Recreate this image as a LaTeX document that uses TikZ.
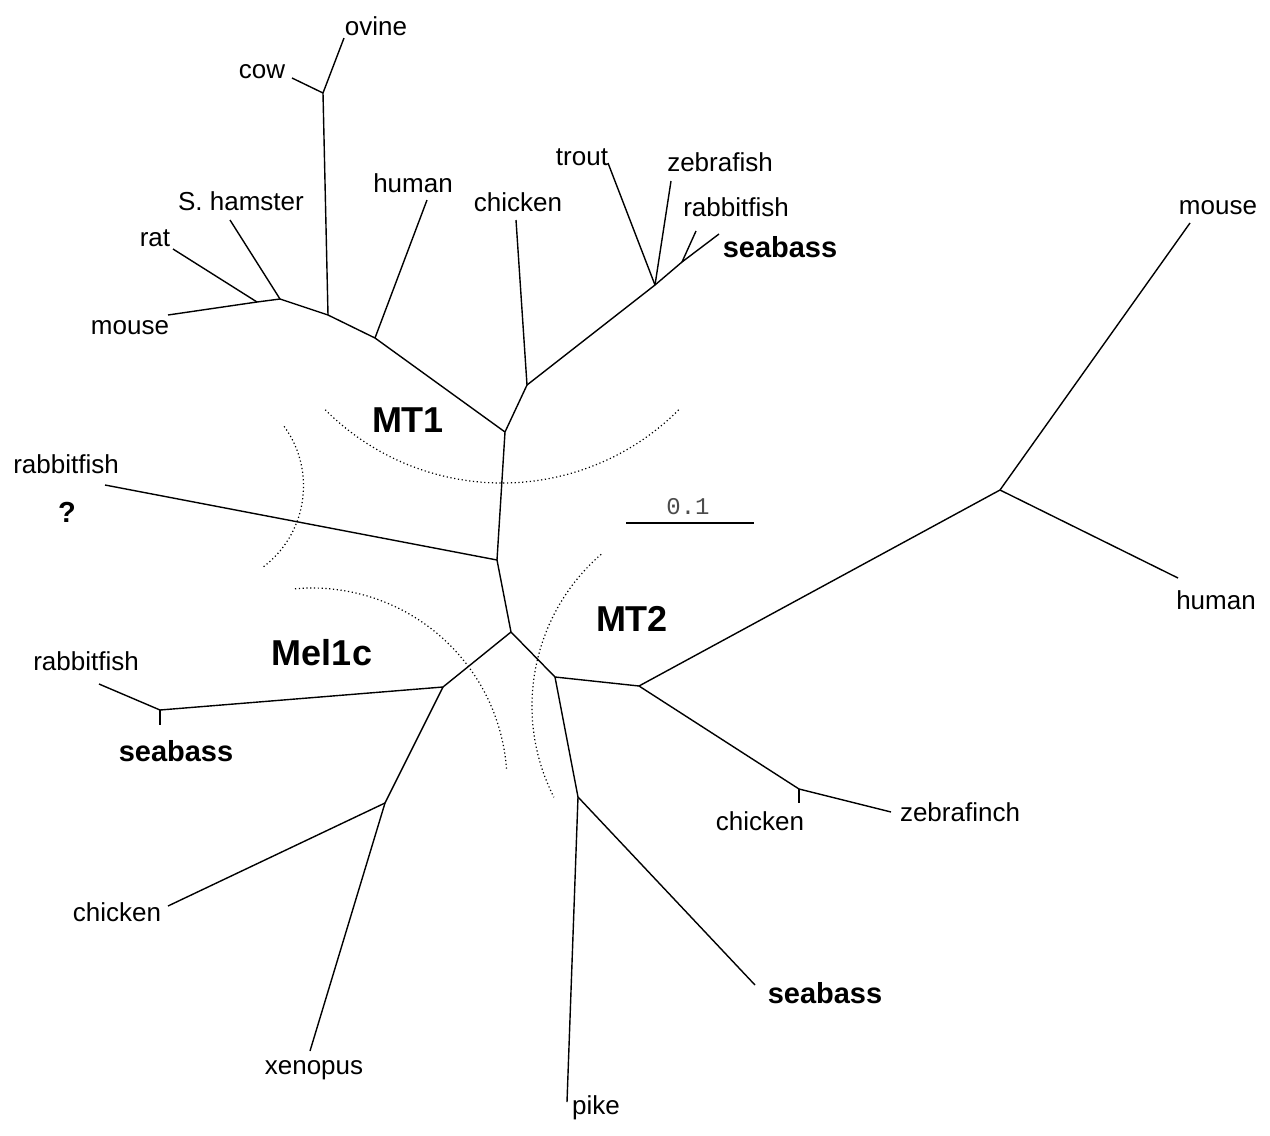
\documentclass[tikz,border=0pt]{standalone}
\usepackage{fontspec}
\setmainfont{Liberation Sans}
\setmonofont{Liberation Mono}
\usepackage{tikz}

\begin{document}
\begin{tikzpicture}[
    x=0.5pt, y=-0.5pt,
    branch/.style={draw=black, line width=0.7pt},
    groupline/.style={draw=black, line width=0.6pt, dash pattern=on 0.6pt off 1.3pt},
    leaf/.style={inner sep=0pt, font=\fontsize{13}{15}\selectfont},
    boldleaf/.style={inner sep=0pt, font=\fontsize{14.5}{17}\selectfont\bfseries},
    clade/.style={inner sep=0pt, font=\fontsize{18}{21}\selectfont\bfseries},
    scalelabel/.style={inner sep=0pt, text=black!70, font=\ttfamily\fontsize{12}{14}\selectfont},
]
\useasboundingbox (0,0) rectangle (1270,1136);

% Trunk
\coordinate (mt1root) at (505,432);
\coordinate (qnode) at (497,560);
\coordinate (center) at (511,632);
\coordinate (qtip) at (105,485);

% MT1 clade
\coordinate (humannode) at (375,338);
\coordinate (stemnode) at (328,315);
\coordinate (ovcownode) at (323,93);
\coordinate (ovinetip) at (344,38);
\coordinate (cowtip) at (292,78);
\coordinate (humantip) at (427,200);
\coordinate (rodentnode) at (280,299);
\coordinate (ratmousenode) at (257,302);
\coordinate (rattip) at (173,249);
\coordinate (mousetip) at (168,315);
\coordinate (hamstertip) at (230,220);
\coordinate (chickfishnode) at (527,385);
\coordinate (chickentip) at (516,220);
\coordinate (fishnode) at (655,285);
\coordinate (trouttip) at (608,163);
\coordinate (zebrafishtip) at (671,181);
\coordinate (rsnode) at (682,262);
\coordinate (rabbittip) at (696,231);
\coordinate (seabasstip) at (719,234);

% Mel1c clade
\coordinate (melnode) at (443,687);
\coordinate (melrsnode) at (160,710);
\coordinate (melrabbittip) at (99,684);
\coordinate (melseabasstip) at (160,725);
\coordinate (melxenonode) at (385,803);
\coordinate (melchickentip) at (168,906);
\coordinate (xenopustip) at (310,1051);

% MT2 clade
\coordinate (mt2node) at (555,677);
\coordinate (birdmamnode) at (639,686);
\coordinate (mamnode) at (1000,490);
\coordinate (mt2mousetip) at (1190,223);
\coordinate (mt2humantip) at (1178,578);
\coordinate (birdnode) at (799,789);
\coordinate (mt2chickentip) at (799,803);
\coordinate (finchtip) at (891,812);
\coordinate (fishnode2) at (578,797);
\coordinate (piketip) at (567,1102);
\coordinate (mt2seabasstip) at (755,985);

% Scale bar
\coordinate (barleft) at (626,523);
\coordinate (barright) at (754,523);

% Trunk branches
\draw[branch] (mt1root) -- (qnode) -- (center);
\draw[branch] (qnode) -- (qtip);

% MT1 branches
\draw[branch] (mt1root) -- (humannode) -- (stemnode) -- (rodentnode) -- (ratmousenode);
\draw[branch] (ratmousenode) -- (rattip);
\draw[branch] (ratmousenode) -- (mousetip);
\draw[branch] (rodentnode) -- (hamstertip);
\draw[branch] (stemnode) -- (ovcownode);
\draw[branch] (ovcownode) -- (ovinetip);
\draw[branch] (ovcownode) -- (cowtip);
\draw[branch] (humannode) -- (humantip);
\draw[branch] (mt1root) -- (chickfishnode) -- (chickentip);
\draw[branch] (chickfishnode) -- (fishnode);
\draw[branch] (fishnode) -- (trouttip);
\draw[branch] (fishnode) -- (zebrafishtip);
\draw[branch] (fishnode) -- (rsnode);
\draw[branch] (rsnode) -- (rabbittip);
\draw[branch] (rsnode) -- (seabasstip);

% Mel1c branches
\draw[branch] (center) -- (melnode) -- (melrsnode);
\draw[branch] (melrsnode) -- (melrabbittip);
\draw[branch] (melrsnode) -- (melseabasstip);
\draw[branch] (melnode) -- (melxenonode);
\draw[branch] (melxenonode) -- (melchickentip);
\draw[branch] (melxenonode) -- (xenopustip);

% MT2 branches
\draw[branch] (center) -- (mt2node) -- (birdmamnode) -- (mamnode);
\draw[branch] (mamnode) -- (mt2mousetip);
\draw[branch] (mamnode) -- (mt2humantip);
\draw[branch] (birdmamnode) -- (birdnode);
\draw[branch] (birdnode) -- (mt2chickentip);
\draw[branch] (birdnode) -- (finchtip);
\draw[branch] (mt2node) -- (fishnode2);
\draw[branch] (fishnode2) -- (piketip);
\draw[branch] (fishnode2) -- (mt2seabasstip);

% Scale bar
\draw[branch] (barleft) -- (barright);
\node[scalelabel] (barlabel) at (688,507) {0.1};

% Group borders
\draw[groupline] (502,233) ++(135:250) arc[start angle=135, end angle=45, radius=250];
\draw[groupline] (202,486) ++(-36:101.5) arc[start angle=-36, end angle=54, radius=101.5];
\draw[groupline] (312,783) ++(-95:195) arc[start angle=-95, end angle=-4, radius=195];
\draw[groupline] (733,706) ++(229:201) arc[start angle=229, end angle=153, radius=201];

% Leaf labels
\node[leaf] (ovine) at (376,26) {ovine};
\node[leaf] (cow) at (262,72) {cow};
\node[leaf] (human1) at (413,183) {human};
\node[leaf] (hamster) at (241,201) {S. hamster};
\node[leaf] (rat) at (155,238) {rat};
\node[leaf] (mouse1) at (130,328) {mouse};
\node[leaf] (chicken1) at (518,202) {chicken};
\node[leaf] (trout) at (582,157) {trout};
\node[leaf] (zebrafish) at (720,162) {zebrafish};
\node[leaf] (rabbit1) at (736,207) {rabbitfish};
\node[boldleaf] (seabass1) at (780,247) {seabass};
\node[leaf] (rabbitq) at (66,464) {rabbitfish};
\node[boldleaf] (qmark) at (67,512) {?};
\node[leaf] (rabbit2) at (86,661) {rabbitfish};
\node[boldleaf] (seabass2) at (176,751) {seabass};
\node[leaf] (chicken2) at (117,912) {chicken};
\node[leaf] (xenopus) at (314,1070) {xenopus};
\node[leaf] (pike) at (596,1108) {pike};
\node[boldleaf] (seabass3) at (825,993) {seabass};
\node[leaf] (chicken3) at (760,821) {chicken};
\node[leaf] (zebrafinch) at (960,812) {zebrafinch};
\node[leaf] (mouse2) at (1218,208) {mouse};
\node[leaf] (human2) at (1216,600) {human};

% Clade labels
\node[clade] (mt1label) at (408,420) {MT1};
\node[clade] (mellabel) at (322,653) {Mel1c};
\node[clade] (mt2label) at (632,619) {MT2};

\end{tikzpicture}
\end{document}
